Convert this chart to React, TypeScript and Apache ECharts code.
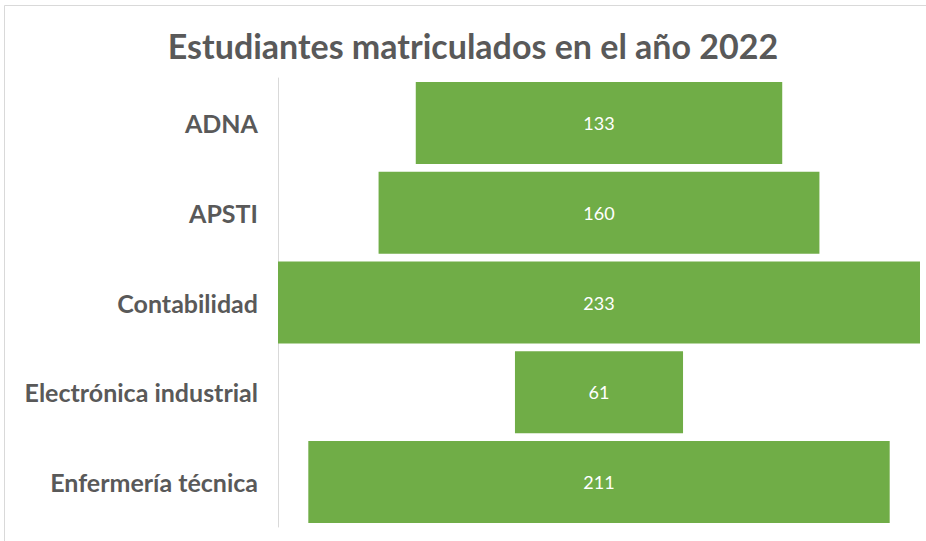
import React, { useEffect, useRef } from "react";
import * as echarts from "echarts";

const titleText = "Estudiantes matriculados en el año 2022";
const categories = ["ADNA", "APSTI", "Contabilidad", "Electrónica industrial", "Enfermería técnica"];
const values = [133, 160, 233, 61, 211];

export default function App() {
  const ref = useRef<HTMLDivElement>(null);
  useEffect(() => {
    document.body.style.margin = "0";
    if (!ref.current) return;
    const chart = echarts.init(ref.current, null, { renderer: "svg" });
    const maxV = Math.max(...values);
    const offsets = values.map((v) => (maxV - v) / 2);
    chart.setOption({
      animation: false,
      backgroundColor: "#ffffff",
      graphic: [
        {
          type: "rect",
          shape: { x: 4.5, y: 5.5, width: 940, height: 560 },
          style: { fill: "none", stroke: "#d9d9d9", lineWidth: 1 },
          silent: true,
        },
        {
          type: "text",
          x: 473,
          y: 45,
          style: {
            text: titleText,
            fontFamily: "Lato",
            fontWeight: "bold",
            fontSize: 34,
            fill: "#595959",
            textAlign: "center",
            textVerticalAlign: "middle",
          },
        },
      ],
      grid: { left: 278, right: 6, top: 78, bottom: 14, containLabel: false },
      xAxis: {
        type: "value",
        min: 0,
        max: maxV,
        show: false,
      },
      yAxis: {
        type: "category",
        data: categories,
        inverse: true,
        axisLine: { show: true, lineStyle: { color: "#d9d9d9", width: 1 } },
        axisTick: { show: false },
        axisLabel: {
          color: "#595959",
          fontFamily: "Lato",
          fontWeight: "bold",
          fontSize: 25,
          margin: 20,
        },
        splitLine: { show: false },
      },
      series: [
        {
          type: "bar",
          stack: "f",
          data: offsets,
          itemStyle: { color: "transparent" },
          barWidth: 82,
          silent: true,
        },
        {
          type: "bar",
          stack: "f",
          data: values,
          barWidth: 82,
          itemStyle: { color: "#70ad47" },
          label: {
            show: true,
            position: "inside",
            color: "#ffffff",
            fontFamily: "Lato",
            fontSize: 18,
          },
        },
      ],
    });
    return () => chart.dispose();
  }, []);
  return <div ref={ref} style={{ width: 926, height: 541 }} />;
}
